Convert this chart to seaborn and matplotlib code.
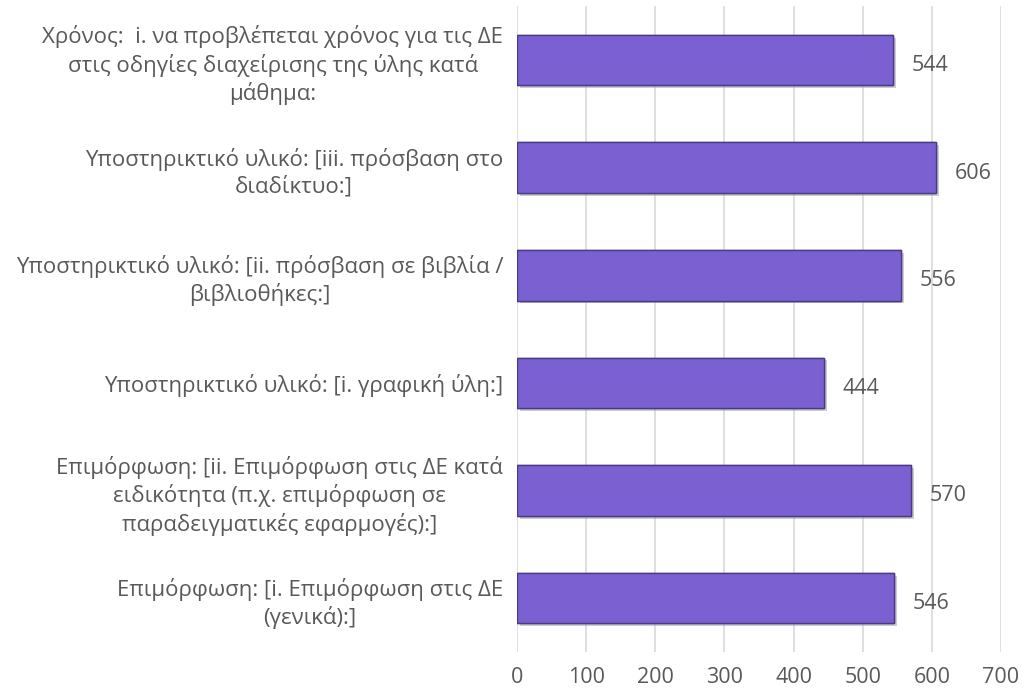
import matplotlib
matplotlib.use("Agg")
import matplotlib.pyplot as plt
import matplotlib.patheffects as pe
import seaborn as sns
import pandas as pd

categories = [
    "Χρόνος:  i. να προβλέπεται χρόνος για τις ΔΕ\nστις οδηγίες διαχείρισης της ύλης κατά\nμάθημα:",
    "Υποστηρικτικό υλικό: [iii. πρόσβαση στο\nδιαδίκτυο:]",
    "Υποστηρικτικό υλικό: [ii. πρόσβαση σε βιβλία /\nβιβλιοθήκες:]",
    "Υποστηρικτικό υλικό: [i. γραφική ύλη:]",
    "Επιμόρφωση: [ii. Επιμόρφωση στις ΔΕ κατά\nειδικότητα (π.χ. επιμόρφωση σε\nπαραδειγματικές εφαρμογές):]",
    "Επιμόρφωση: [i. Επιμόρφωση στις ΔΕ\n(γενικά):]",
]
values = [544, 606, 556, 444, 570, 546]
x_ticks = [0, 100, 200, 300, 400, 500, 600, 700]

df = pd.DataFrame({"category": categories, "value": values})

sns.set_theme(style="white")
plt.rcParams["font.family"] = ["Open Sans", "DejaVu Sans"]

fig = plt.figure(figsize=(10.26, 6.94), dpi=100)
ax = fig.add_axes([0.504, 0.0605, 0.4715, 0.9305])

sns.barplot(data=df, x="value", y="category", orient="h", color="#7B60D2",
            saturation=1, width=0.47, ax=ax, edgecolor="#4A3888", linewidth=1.0)

for p in ax.patches:
    p.set_path_effects([pe.withSimplePatchShadow(offset=(2, -2), shadow_rgbFace="#9a9a9a", alpha=0.5), pe.Normal()])

text_color = "#595959"
for i, v in enumerate(values):
    ax.text(v + 27, i + 0.05, str(v), va="center", ha="left", fontsize=15.5, color=text_color)

ax.set_xlim(0, 700)
ax.set_xticks(x_ticks)
ax.set_xticklabels([str(t) for t in x_ticks], fontsize=15.5, color=text_color)
ax.tick_params(axis="x", length=0, pad=11)
ax.tick_params(axis="y", length=0, pad=10, labelsize=16, labelcolor=text_color)
for lbl in ax.get_yticklabels():
    lbl.set_multialignment("center")
    lbl.set_linespacing(1.3)
ax.set_xlabel("")
ax.set_ylabel("")
ax.grid(axis="x", color="#D9D9D9", linewidth=1.2)
ax.set_axisbelow(True)
for s in ax.spines.values():
    s.set_visible(False)

fig.savefig("out.png", dpi=100)
